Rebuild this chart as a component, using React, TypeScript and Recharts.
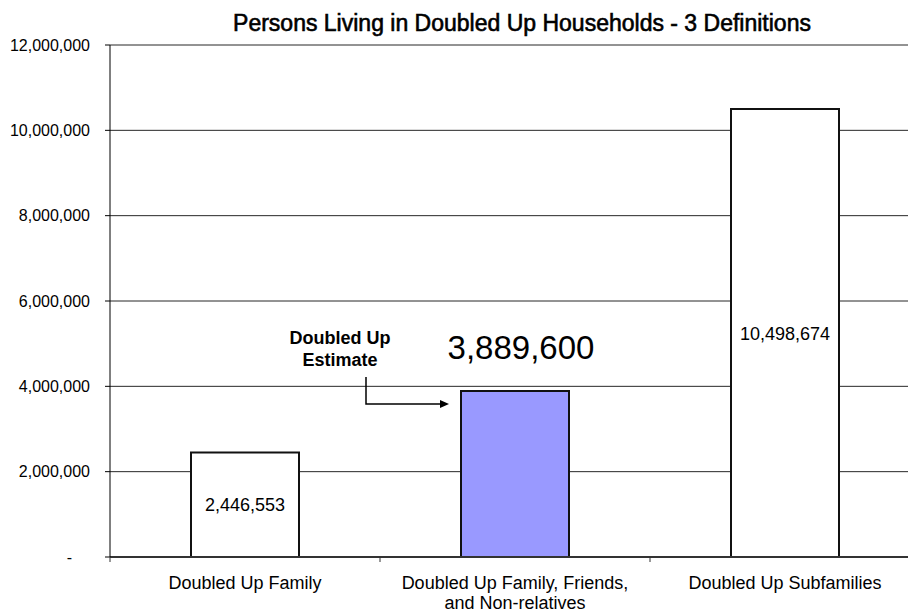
import React from "react";
import { BarChart, Bar, XAxis, YAxis, CartesianGrid, Cell, LabelList } from "recharts";

const categories = [
  "Doubled Up Family",
  "Doubled Up Family, Friends,\nand Non-relatives",
  "Doubled Up Subfamilies",
];
const persons = [2446553, 3889600, 10498674];
const barFills = ["#FFFFFF", "#9999FF", "#FFFFFF"];
const yTicks = [0, 2000000, 4000000, 6000000, 8000000, 10000000, 12000000];
const title = "Persons Living in Doubled Up Households - 3 Definitions";
const noteLines = ["Doubled Up", "Estimate"];

const data = categories.map((name, i) => ({ name, persons: persons[i] }));

const FONT = "'Liberation Sans', Arial, sans-serif";
const CHART_W = 920;
const Y_W = 110;
const HALF_BAND = (CHART_W - Y_W) / categories.length / 2;

const fmt = (v: number) => (v === 0 ? "-" : v.toLocaleString("en-US"));

const YTick = (props: any) => {
  const { x, y, payload } = props;
  const v = payload.value;
  return (
    <text
      x={v === 0 ? x - 18 : x}
      y={y}
      dy="0.36em"
      textAnchor="end"
      fontSize={16}
      fontFamily={FONT}
      fill="#000"
    >
      {fmt(v)}
    </text>
  );
};

const XTick = (props: any) => {
  const { x, y, payload, index } = props;
  const lines = String(payload.value).split("\n");
  return (
    <g>
      <line x1={x - HALF_BAND} y1={y} x2={x - HALF_BAND} y2={y + 5} stroke="#333" />
      {index === categories.length - 1 && (
        <line x1={x + HALF_BAND} y1={y} x2={x + HALF_BAND} y2={y + 5} stroke="#333" />
      )}
      <text textAnchor="middle" fontSize={18} fontFamily={FONT} fill="#000">
        {lines.map((l, i) => (
          <tspan key={i} x={x} y={y + 32 + i * 20}>
            {l}
          </tspan>
        ))}
      </text>
    </g>
  );
};

const BarLabel = (props: any) => {
  const { x, y, width, height, value, index } = props;
  if (index === 1) {
    const ax = x - 95;
    return (
      <g fontFamily={FONT}>
        <text x={x + width / 2 + 6} y={y - 32} textAnchor="middle" fontSize={33} fill="#000">
          {fmt(value)}
        </text>
        {noteLines.map((l, i) => (
          <text
            key={i}
            x={x - 121}
            y={y - 47 + i * 22}
            textAnchor="middle"
            fontSize={18}
            fontWeight="bold"
            fill="#000"
          >
            {l}
          </text>
        ))}
        <polyline
          points={`${ax},${y - 14} ${ax},${y + 13} ${x - 20},${y + 13}`}
          fill="none"
          stroke="#000"
          strokeWidth={1.5}
        />
        <polygon
          points={`${x - 12},${y + 13} ${x - 21},${y + 9} ${x - 21},${y + 17}`}
          fill="#000"
        />
      </g>
    );
  }
  return (
    <text
      x={x + width / 2}
      y={y + height / 2}
      dy="0.36em"
      textAnchor="middle"
      fontSize={18}
      fontFamily={FONT}
      fill="#000"
    >
      {fmt(value)}
    </text>
  );
};

export default function App() {
  return (
    <div
      style={{
        position: "absolute",
        left: 0,
        top: 0,
        width: 908,
        height: 616,
        overflow: "hidden",
        background: "#fff",
      }}
    >
      <div
        style={{
          position: "absolute",
          left: 0,
          width: 1044,
          top: 10,
          textAlign: "center",
          fontFamily: FONT,
          fontSize: 23,
          color: "#000",
          WebkitTextStroke: "0.6px #000",
          whiteSpace: "nowrap",
        }}
      >
        {title}
      </div>
      <BarChart
        width={CHART_W}
        height={616}
        data={data}
        margin={{ top: 45, right: 0, bottom: 0, left: 0 }}
        barCategoryGap={0}
      >
        <CartesianGrid vertical={false} stroke="#000" strokeOpacity={0.85} />
        <XAxis
          dataKey="name"
          height={59}
          interval={0}
          tickSize={0}
          tickMargin={0}
          axisLine={{ stroke: "#333", strokeWidth: 2 }}
          tick={<XTick />}
        />
        <YAxis
          width={Y_W}
          domain={[0, 12000000]}
          ticks={yTicks}
          interval={0}
          tickSize={5}
          tickMargin={15}
          axisLine={{ stroke: "#000" }}
          tickLine={{ stroke: "#000" }}
          tick={<YTick />}
        />
        <Bar dataKey="persons" barSize={108} stroke="#111" strokeWidth={2} isAnimationActive={false}>
          {data.map((_, i) => (
            <Cell key={i} fill={barFills[i]} />
          ))}
          <LabelList dataKey="persons" content={<BarLabel />} />
        </Bar>
      </BarChart>
    </div>
  );
}
